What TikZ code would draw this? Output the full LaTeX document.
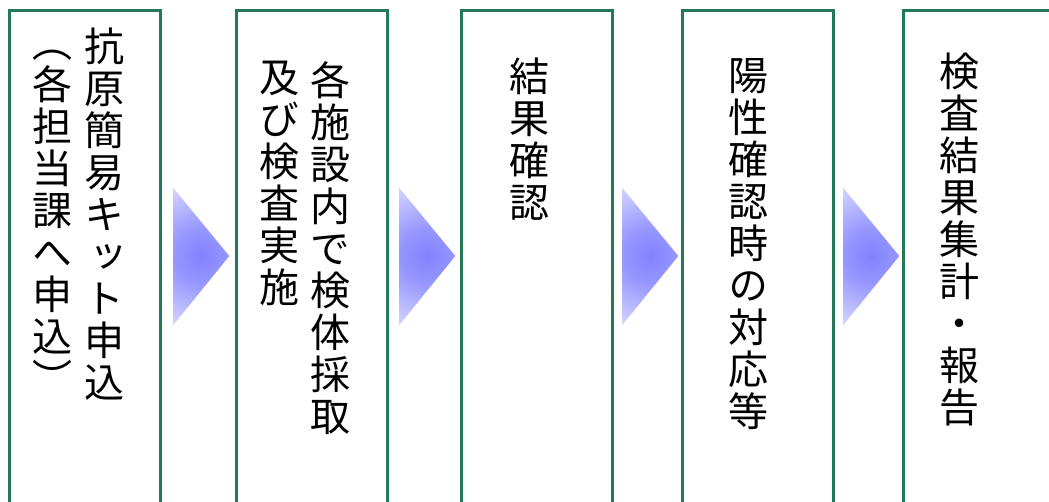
\documentclass[tikz,border=0pt]{standalone}
\usepackage{xcolor}
\usepackage{fontspec}
\usepackage{tikz}
\usetikzlibrary{calc}
\newfontfamily\cjk[Script=CJK, RawFeature=+vert]{Noto Sans CJK JP}
\definecolor{boxgreen}{RGB}{36,120,90}
\definecolor{glowin}{RGB}{130,130,255}
\definecolor{glowmid}{RGB}{150,150,255}
\definecolor{glowout}{RGB}{214,214,255}
\pgfdeclareradialshading{arrowglow}{\pgfpoint{0bp}{0bp}}{color(0bp)=(glowin); color(9bp)=(glowmid); color(25bp)=(glowout); color(50bp)=(glowout)}
\tikzset{
	stepbox/.style = {draw = boxgreen, line width = 2.6pt, minimum width = 151pt, minimum height = 560pt, anchor = north west, inner sep = 0pt},
	col/.style = {anchor = north, inner sep = 0pt, align = center, font = \cjk\fontsize{40}{42}\selectfont}
}
% triangle between two boxes
\newcommand{\flowtri}[2]{
	\begin{scope}
		\clip ($(#1.north east)!0.5!(#2.north west)+(-25,179)$) -- ($(#1.north east)!0.5!(#2.north west)+(31,247)$) -- ($(#1.north east)!0.5!(#2.north west)+(-25,316)$) -- cycle;
		\shade[shading = arrowglow] ($(#1.north east)!0.5!(#2.north west)+(3,247)$) circle (75pt);
	\end{scope}
}

\begin{document}
\begin{tikzpicture}[x = 1pt, y = -1pt]
	\useasboundingbox (0,0) rectangle (1049,502);
	\node[stepbox] (kit) at (8,9) {};
	\node[stepbox] (sample) at (235,9) {};
	\node[stepbox] (result) at (460,9) {};
	\node[stepbox] (positive) at (681,9) {};
	\node[stepbox] (report) at (902,9) {};
	\flowtri{kit}{sample}
	\flowtri{sample}{result}
	\flowtri{result}{positive}
	\flowtri{positive}{report}
	\node[col] (kit-a) at (104,28) {抗\\原\\簡\\易\\キ\\ッ\\ト\\申\\込};
	\node[col] (kit-b) at (52,23) {\vphantom{各}︵\\各\\担\\当\\課\\へ\\申\\込\\︶};
	\node[col] (sample-a) at (330,61) {各\\施\\設\\内\\で\\検\\体\\採\\取};
	\node[col] (sample-b) at (279,61) {及\\び\\検\\査\\実\\施};
	\node[col] (result-a) at (529,58) {結\\果\\確\\認};
	\node[col] (positive-a) at (748,58) {陽\\性\\確\\認\\時\\の\\対\\応\\等};
	\node[col] (report-a) at (959,53) {検\\査\\結\\果\\集\\計\\・\\報\\告};
\end{tikzpicture}
\end{document}
